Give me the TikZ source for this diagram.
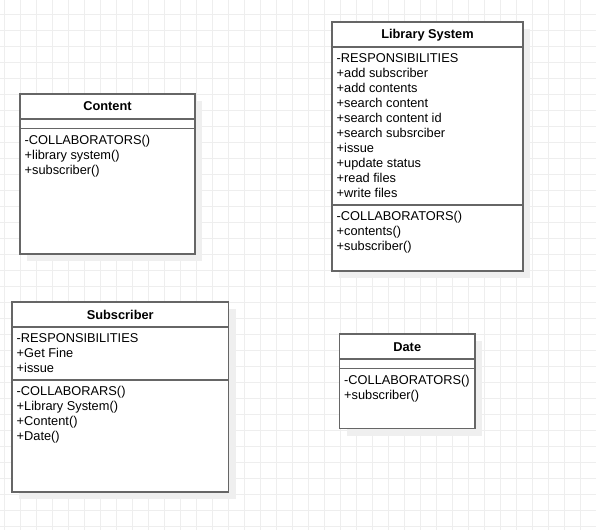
\documentclass[tikz,border=0pt]{standalone}
\usepackage{fontspec}
\setmainfont{Liberation Sans}
\definecolor{gridc}{HTML}{EEEEEE}
\definecolor{shadowc}{HTML}{EFEFEF}
\definecolor{boxc}{HTML}{666666}
\begin{document}
\begin{tikzpicture}[x=1pt,y=-1pt,
  box/.style={draw=boxc, line width=1.6pt, fill=white, rectangle, inner sep=0pt, outer sep=0pt, anchor=north west},
  sep/.style={draw=boxc, line width=1.6pt},
  shadowbox/.style={fill=shadowc},
  txt/.style={anchor=base west, inner sep=0pt, font=\fontsize{12.8}{15}\selectfont},
  ttl/.style={anchor=base, inner sep=0pt, font=\fontsize{12.8}{15}\selectfont\bfseries},
  gridline/.style={draw=gridc, line width=0.9pt}]
\useasboundingbox (0,0) rectangle (596,530);
\fill[white] (0,0) rectangle (596,530);
% grid
\foreach \x in {4.5,20.5,...,596} \draw[gridline] (\x,0) -- (\x,530);
\foreach \y in {14.3,30.3,...,530} \draw[gridline] (0,\y) -- (596,\y);
% shadows
\fill[shadowbox] (27,101) rectangle (202,261);
\fill[shadowbox] (339,29) rectangle (530,278);
\fill[shadowbox] (19,309) rectangle (235.5,499);
\fill[shadowbox] (346.5,341) rectangle (482,435.5);

% Content
\node[box, minimum width=175pt, minimum height=160pt] (content) at (20,94) {};
\node[ttl] (contentT) at (107.5,110.5) {Content};
\draw[sep] (content.west |- 0,119) -- (content.east |- 0,119);
\draw[sep] (content.west |- 0,128.5) -- (content.east |- 0,128.5);
\node[txt] (c1) at (24.5,144) {-COLLABORATORS()};
\node[txt] (c2) at (24.5,159) {+library system()};
\node[txt] (c3) at (24.5,174) {+subscriber()};

% Library System
\node[box, minimum width=191pt, minimum height=249pt] (lib) at (332,22) {};
\node[ttl] (libT) at (427.5,38.5) {Library System};
\draw[sep] (lib.west |- 0,47) -- (lib.east |- 0,47);
\foreach \t [count=\i from 0] in {-RESPONSIBILITIES,+add subscriber,+add contents,+search content,+search content id,+search subsrciber,+issue,+update status,+read files,+write files}
  \node[txt] (l\i) at (336.5,62.3+15*\i) {\t};
\draw[sep] (lib.west |- 0,205) -- (lib.east |- 0,205);
\node[txt] (lc1) at (336.5,220) {-COLLABORATORS()};
\node[txt] (lc2) at (336.5,235) {+contents()};
\node[txt] (lc3) at (336.5,250) {+subscriber()};

% Subscriber
\node[box, minimum width=216.5pt, minimum height=190pt] (sub) at (12,302) {};
\node[ttl] (subT) at (120.25,319) {Subscriber};
\draw[sep] (sub.west |- 0,327) -- (sub.east |- 0,327);
\node[txt] (s1) at (16.5,342.3) {-RESPONSIBILITIES};
\node[txt] (s2) at (16.5,357.3) {+Get Fine};
\node[txt] (s3) at (16.5,372.3) {+issue};
\draw[sep] (sub.west |- 0,380) -- (sub.east |- 0,380);
\node[txt] (s4) at (16.5,395.5) {-COLLABORARS()};
\node[txt] (s5) at (16.5,410.5) {+Library System()};
\node[txt] (s6) at (16.5,425.5) {+Content()};
\node[txt] (s7) at (16.5,440.5) {+Date()};

% Date
\node[box, minimum width=135.5pt, minimum height=94.5pt] (date) at (339.5,334) {};
\node[ttl] (dateT) at (407.25,351) {Date};
\draw[sep] (date.west |- 0,359) -- (date.east |- 0,359);
\draw[sep] (date.west |- 0,368.5) -- (date.east |- 0,368.5);
\node[txt] (d1) at (344,384) {-COLLABORATORS()};
\node[txt] (d2) at (344,399) {+subscriber()};
\end{tikzpicture}
\end{document}
